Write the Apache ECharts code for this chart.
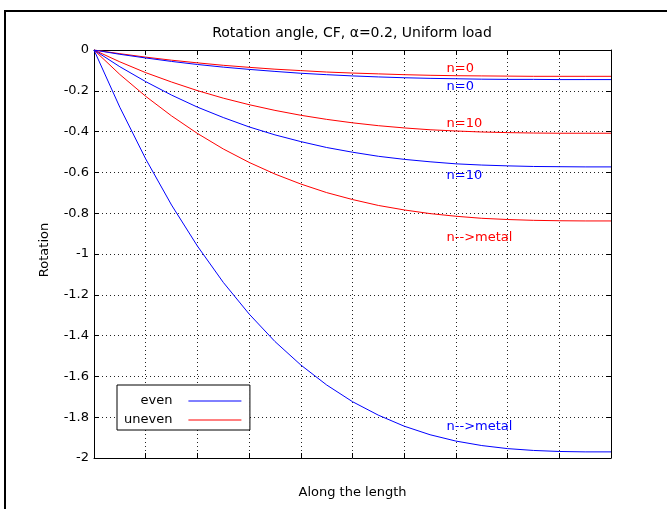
<!DOCTYPE html>
<html>
<head>
<meta charset="utf-8">
<title>Rotation angle, CF, α=0.2, Uniform load</title>
<script src="https://cdn.jsdelivr.net/npm/echarts@6/dist/echarts.min.js"></script>
<style>
  html, body { margin: 0; padding: 0; background: #fff; }
  #chart { width: 667px; height: 509px; }
</style>
</head>
<body>
<div id="chart"></div>
<script>
// Position along the beam (0 = clamped end, 10 = free end)
const xs = [0, 0.5, 1, 1.5, 2, 2.5, 3, 3.5, 4, 4.5, 5, 5.5, 6, 6.5, 7, 7.5, 8, 8.5, 9, 9.5, 10];

// Even distribution
const evenN0 = [0, -0.021, -0.039, -0.056, -0.071, -0.084, -0.095, -0.105, -0.114, -0.121, -0.127,
  -0.132, -0.136, -0.139, -0.141, -0.143, -0.144, -0.144, -0.145, -0.145, -0.145];
const evenN10 = [0, -0.082, -0.155, -0.221, -0.280, -0.331, -0.377, -0.416, -0.449, -0.478, -0.501,
  -0.521, -0.536, -0.548, -0.558, -0.564, -0.568, -0.571, -0.572, -0.573, -0.573];
const evenMetal = [0, -0.281, -0.534, -0.760, -0.961, -1.139, -1.294, -1.429, -1.544, -1.642, -1.724,
  -1.790, -1.844, -1.886, -1.917, -1.939, -1.954, -1.963, -1.968, -1.970, -1.970];

// Uneven distribution
const unevenN0 = [0, -0.018, -0.035, -0.050, -0.063, -0.075, -0.085, -0.094, -0.101, -0.108, -0.113,
  -0.117, -0.121, -0.124, -0.126, -0.127, -0.128, -0.129, -0.129, -0.129, -0.129];
const unevenN10 = [0, -0.058, -0.111, -0.157, -0.199, -0.236, -0.268, -0.296, -0.320, -0.340, -0.357,
  -0.371, -0.382, -0.391, -0.397, -0.402, -0.405, -0.407, -0.408, -0.408, -0.408];
const unevenMetal = [0, -0.120, -0.227, -0.323, -0.409, -0.485, -0.551, -0.608, -0.657, -0.699, -0.733,
  -0.762, -0.784, -0.802, -0.815, -0.825, -0.831, -0.835, -0.837, -0.838, -0.838];

// Curve annotations: text and anchor (x, rotation)
const noteX = 6.82;
const notes = {
  unevenN0: ['n=0', -0.091],
  evenN0: ['n=0', -0.178],
  unevenN10: ['n=10', -0.361],
  evenN10: ['n=10', -0.615],
  unevenMetal: ['n-->metal', -0.921],
  evenMetal: ['n-->metal', -1.844]
};

const FONT = 'DejaVu Sans';
const BLUE = '#0000ff';
const RED = '#ff0000';

function pairs(ys) { return xs.map((x, i) => [x, ys[i]]); }

function curve(name, color, ys, noteKey) {
  const [text, y] = notes[noteKey];
  return {
    name: name,
    type: 'line',
    data: pairs(ys),
    symbol: 'none',
    smooth: false,
    lineStyle: { color: color, width: 1 },
    itemStyle: { color: color },
    emphasis: { disabled: true },
    markPoint: {
      silent: true,
      symbol: 'circle',
      symbolSize: 0,
      data: [{ name: text, coord: [noteX, y] }],
      label: {
        show: true,
        position: 'right',
        distance: 0,
        formatter: '{b}',
        color: color,
        fontFamily: FONT,
        fontSize: 13
      }
    }
  };
}

const chart = echarts.init(document.getElementById('chart'), null, { renderer: 'canvas' });

const tickStyle = { show: true, inside: true, length: 5, lineStyle: { color: '#000', width: 1 } };
const gridDots = { show: true, lineStyle: { color: '#222', width: 1, type: [1, 3] } };

chart.setOption({
  backgroundColor: '#fff',
  animation: false,
  title: {
    text: 'Rotation angle, CF, α=0.2, Uniform load',
    left: 352,
    top: 26,
    textAlign: 'center',
    padding: 0,
    textStyle: { fontFamily: FONT, fontSize: 14, fontWeight: 'normal', color: '#000' }
  },
  grid: { left: 94, right: 56, top: 50, bottom: 51, containLabel: false },
  legend: {
    data: ['even', 'uneven'],
    orient: 'vertical',
    left: 117,
    top: 385,
    align: 'right',
    itemWidth: 53,
    itemHeight: 14,
    itemGap: 5,
    padding: [9, 8, 3, 7],
    backgroundColor: '#fff',
    borderColor: '#000',
    borderWidth: 1,
    selectedMode: false,
    // plain line samples only, no marker dot
    itemStyle: { color: 'transparent', borderColor: 'transparent', borderWidth: 0 },
    lineStyle: { width: 1 },
    textStyle: { fontFamily: FONT, fontSize: 13, color: '#000', lineHeight: 14, padding: [0, 11, 0, 0] }
  },
  xAxis: [
    {
      type: 'value',
      min: 0, max: 10, interval: 1,
      name: 'Along the length',
      nameLocation: 'middle',
      nameGap: 28,
      nameTextStyle: { fontFamily: FONT, fontSize: 13, color: '#000' },
      axisLine: { show: true, onZero: false, lineStyle: { color: '#000', width: 1 } },
      axisTick: tickStyle,
      axisLabel: { show: false },
      splitLine: gridDots
    },
    {
      type: 'value',
      position: 'top',
      min: 0, max: 10, interval: 1,
      axisLine: { show: true, onZero: false, lineStyle: { color: '#000', width: 1 } },
      axisTick: tickStyle,
      axisLabel: { show: false },
      splitLine: { show: false }
    }
  ],
  yAxis: [
    {
      type: 'value',
      min: -2, max: 0, interval: 0.2,
      name: 'Rotation',
      nameLocation: 'middle',
      nameGap: 43,
      nameTextStyle: { fontFamily: FONT, fontSize: 13, color: '#000', padding: [0, 0, 0, 8] },
      axisLine: { show: true, onZero: false, lineStyle: { color: '#000', width: 1 } },
      axisTick: tickStyle,
      axisLabel: {
        margin: 5,
        fontFamily: FONT,
        fontSize: 13,
        color: '#000',
        formatter: v => String(Math.round(v * 10) / 10)
      },
      splitLine: gridDots
    },
    {
      type: 'value',
      position: 'right',
      min: -2, max: 0, interval: 0.2,
      axisLine: { show: true, onZero: false, lineStyle: { color: '#000', width: 1 } },
      axisTick: tickStyle,
      axisLabel: { show: false },
      splitLine: { show: false }
    }
  ],
  graphic: [
    { type: 'line', silent: true, shape: { x1: 4, y1: 11, x2: 667, y2: 11 }, style: { stroke: '#000', lineWidth: 2 } },
    { type: 'line', silent: true, shape: { x1: 5, y1: 10, x2: 5, y2: 509 }, style: { stroke: '#000', lineWidth: 2 } }
  ],
  series: [
    curve('uneven', RED, unevenN0, 'unevenN0'),
    curve('uneven', RED, unevenN10, 'unevenN10'),
    curve('uneven', RED, unevenMetal, 'unevenMetal'),
    curve('even', BLUE, evenN0, 'evenN0'),
    curve('even', BLUE, evenN10, 'evenN10'),
    curve('even', BLUE, evenMetal, 'evenMetal')
  ]
});
</script>
</body>
</html>
